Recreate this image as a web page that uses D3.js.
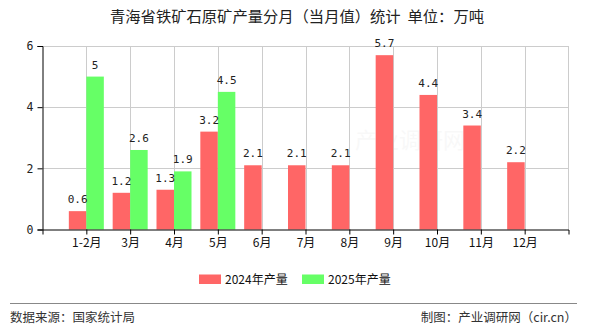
<!DOCTYPE html>
<html>
<head>
<meta charset="utf-8">
<script src="https://cdn.jsdelivr.net/npm/d3@7"></script>
<style>
  html, body { margin: 0; padding: 0; background: #fff; }
  svg { display: block; }
</style>
</head>
<body>
<svg id="chart" width="590" height="330"></svg>
<script>
// Monthly iron ore output, Qinghai (10k tonnes)
const categories = ["1-2月", "3月", "4月", "5月", "6月", "7月", "8月", "9月", "10月", "11月", "12月"];
const values2024 = [0.6, 1.2, 1.3, 3.2, 2.1, 2.1, 2.1, 5.7, 4.4, 3.4, 2.2];
const values2025 = [5, 2.6, 1.9, 4.5, null, null, null, null, null, null, null];
const yTicks = [0, 2, 4, 6];
const seriesNames = ["2024年产量", "2025年产量"];
const seriesColors = ["#ff6666", "#66ff66"];

const svg = d3.select("#chart");
const plotLeft = 42.5, plotRight = 568.5, plotTop = 46, plotBottom = 229.5;
const barW = 17.5;

const x = d3.scalePoint().domain(categories).range([plotLeft, plotRight]).padding(1);
const y = d3.scaleLinear().domain([0, 6]).range([plotBottom, plotTop]);

// Title
svg.append("text")
  .attr("x", 297).attr("y", 22)
  .attr("text-anchor", "middle")
  .attr("font-family", "'Noto Sans CJK SC', sans-serif")
  .attr("font-size", 15.3)
  .attr("fill", "#222")
  .text("青海省铁矿石原矿产量分月（当月值）统计\u00a0\u00a0单位：万吨");

// Watermark
svg.append("text")
  .attr("x", 410).attr("y", 148)
  .attr("text-anchor", "middle")
  .attr("font-family", "'Noto Sans CJK SC', sans-serif")
  .attr("font-size", 22)
  .attr("fill", "#000")
  .attr("opacity", 0.025)
  .text("产业调研网");

// Grid lines
const grid = svg.append("g").attr("stroke", "#cccccc").attr("stroke-width", 1);
yTicks.filter(d => d > 0).forEach(t => {
  grid.append("line").attr("x1", plotLeft).attr("x2", plotRight)
    .attr("y1", Math.round(y(t)) + 0.5).attr("y2", Math.round(y(t)) + 0.5);
});
categories.forEach(c => {
  const gx = Math.round(x(c)) + 0.5;
  grid.append("line").attr("x1", gx).attr("x2", gx).attr("y1", plotTop).attr("y2", plotBottom);
});
grid.append("line").attr("x1", plotRight).attr("x2", plotRight).attr("y1", plotTop).attr("y2", plotBottom);

// Bars
const bars = svg.append("g");
bars.selectAll("rect.s2024").data(values2024).join("rect")
  .attr("class", "s2024")
  .attr("x", (d, i) => x(categories[i]) - barW)
  .attr("y", d => y(d))
  .attr("width", barW)
  .attr("height", d => y(0) - y(d))
  .attr("fill", seriesColors[0]);
bars.selectAll("rect.s2025").data(values2025.map((v, i) => ({ v, c: categories[i] })).filter(d => d.v != null))
  .join("rect")
  .attr("class", "s2025")
  .attr("x", d => x(d.c))
  .attr("y", d => y(d.v))
  .attr("width", barW)
  .attr("height", d => y(0) - y(d.v))
  .attr("fill", seriesColors[1]);

// Value labels
const lab = svg.append("g")
  .attr("font-family", "'DejaVu Sans Mono', monospace")
  .attr("font-size", 11)
  .attr("fill", "#222")
  .attr("text-anchor", "middle");
values2024.forEach((d, i) => {
  lab.append("text").attr("x", x(categories[i]) - barW / 2).attr("y", y(d) - 8).text(d);
});
values2025.forEach((d, i) => {
  if (d == null) return;
  lab.append("text").attr("x", x(categories[i]) + barW / 2).attr("y", y(d) - 8).text(d);
});

// Y axis
const yAxis = d3.axisLeft(y).tickValues(yTicks).tickSize(5).tickPadding(4).tickFormat(d3.format("d"));
const gy = svg.append("g").attr("transform", `translate(${plotLeft},0)`).call(yAxis);
gy.select(".domain").attr("stroke", "#000");
gy.selectAll(".tick line").attr("stroke", "#000");
gy.selectAll("text").attr("font-family", "'DejaVu Sans Mono', monospace").attr("font-size", 11.5).attr("fill", "#222");

// X axis
const xAxis = d3.axisBottom(x).tickSize(5).tickPadding(4).tickSizeOuter(5);
const gx = svg.append("g").attr("transform", `translate(0,${plotBottom})`).call(xAxis);
gx.select(".domain").attr("stroke", "#000");
gx.selectAll(".tick line").attr("stroke", "#000");
gx.selectAll("text").attr("font-family", "'Noto Sans CJK SC', sans-serif").attr("font-size", 12).attr("fill", "#111");

// Legend
const legend = svg.append("g").attr("font-family", "'Noto Sans CJK SC', sans-serif").attr("font-size", 12).attr("fill", "#111");
const legendX = [199, 302];
seriesNames.forEach((n, i) => {
  legend.append("rect").attr("x", legendX[i]).attr("y", 274.5).attr("width", 22).attr("height", 9.5).attr("fill", seriesColors[i]);
  legend.append("text").attr("x", legendX[i] + 26).attr("y", 283.5).text(n);
});

// Footer
svg.append("line").attr("x1", 10).attr("x2", 577).attr("y1", 303.5).attr("y2", 303.5)
  .attr("stroke", "#888").attr("stroke-width", 1);
svg.append("text").attr("x", 10).attr("y", 322)
  .attr("font-family", "'Noto Sans CJK SC', sans-serif").attr("font-size", 12.5).attr("fill", "#333")
  .text("数据来源：国家统计局");
svg.append("text").attr("x", 577).attr("y", 322).attr("text-anchor", "end")
  .attr("font-family", "'Noto Sans CJK SC', sans-serif").attr("font-size", 12.5).attr("fill", "#333")
  .text("制图：产业调研网（cir.cn）");
</script>
</body>
</html>
